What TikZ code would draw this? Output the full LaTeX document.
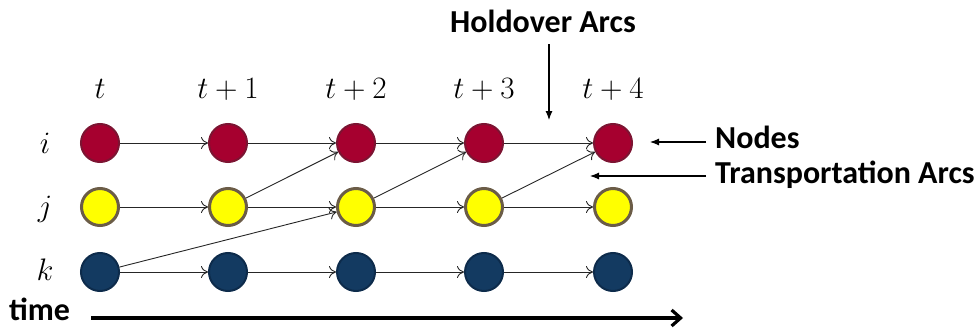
\documentclass[tikz,border=0pt]{standalone}
\usepackage{xcolor}
\usepackage{graphicx}
\usepackage{fontspec}
\usepackage{amsmath}
\usetikzlibrary{arrows.meta}
\newfontfamily\lblfont{Carlito}

\definecolor{rojo}{HTML}{A6002F}
\definecolor{rojoborde}{HTML}{7C1432}
\definecolor{amarillo}{HTML}{FFFF00}
\definecolor{amarilloborde}{HTML}{6B5C47}
\definecolor{azul}{HTML}{133A61}
\definecolor{azulborde}{HTML}{0D2B4B}

% texto matematico grande
\newcommand{\mgrande}[1]{\scalebox{1.25}{$#1$}}

\tikzset{
  nodo/.style={circle, inner sep=0pt},
  nodoi/.style={nodo, fill=rojo, draw=rojoborde, line width=2pt, minimum size=38pt},
  nodoj/.style={nodo, fill=amarillo, draw=amarilloborde, line width=3pt, minimum size=37pt},
  nodok/.style={nodo, fill=azul, draw=azulborde, line width=2pt, minimum size=38pt},
  arco/.style={-{To[length=7pt,width=12pt]}, line width=0.9pt, black!85},
  etiq/.style={font=\lblfont\bfseries\fontsize{32}{35}\selectfont, inner sep=0pt},
  flecha/.style={-{Latex[length=9pt,width=7pt]}, line width=1.1pt},
  mat/.style={font=\fontsize{24.88}{28}\selectfont, inner sep=0pt, anchor=base}
}

\begin{document}
\begin{tikzpicture}[x=1pt, y=-1pt]

\useasboundingbox (0,0) rectangle (977,329);

% etiquetas de tiempo y nodos
\foreach \c/\x/\lab in {0/100/t, 1/228/t+1, 2/356/t+2, 3/484/t+3, 4/613/t+4} {
  \node[mat] (lt\c) at (\x,99) {\mgrande{\lab}};
  \node[nodoi] (i\c) at (\x,143) {};
  \node[nodoj] (j\c) at (\x,207) {};
  \node[nodok] (k\c) at (\x,272) {};
}

\node[mat] (li) at (45,153) {\mgrande{i}};
\node[mat] (lj) at (45,216) {\mgrande{j}};
\node[mat] (lk) at (45,280) {\mgrande{k}};

% arcos de espera
\foreach \a/\b in {0/1, 1/2, 2/3, 3/4} {
  \draw[arco] (i\a) -- (i\b);
  \draw[arco] (j\a) -- (j\b);
  \draw[arco] (k\a) -- (k\b);
}

% arcos de transporte
\draw[arco] (j1) -- (i2);
\draw[arco] (j2) -- (i3);
\draw[arco] (j3) -- (i4);
\draw[arco] (k0) -- (j2);

% leyenda
\node[etiq, anchor=base] (lhold) at (543,33) {Holdover Arcs};
\node[etiq, anchor=base west] (lnodos) at (715,148) {Nodes};
\node[etiq, anchor=base west] (ltrans) at (715,183) {Transportation Arcs};
\coordinate (ph) at (549,120);
\coordinate (pn) at (650,142);
\coordinate (pt) at (590,176);
\draw[flecha] ([xshift=6pt,yshift=-11pt]lhold.south) -- (ph);
\draw[flecha] (lnodos.west |- pn) ++(-9,0) -- (pn);
\draw[flecha] (ltrans.west |- pt) ++(-9,0) -- (pt);

% eje del tiempo
\node[etiq, anchor=base west] (ltime) at (9,320) {time};
\coordinate (pfin) at (683,318);
\draw[-{Straight Barb[length=9pt,width=16pt]}, line width=3.2pt] (ltime.east |- pfin) ++(21,0) -- (pfin);

\end{tikzpicture}
\end{document}
